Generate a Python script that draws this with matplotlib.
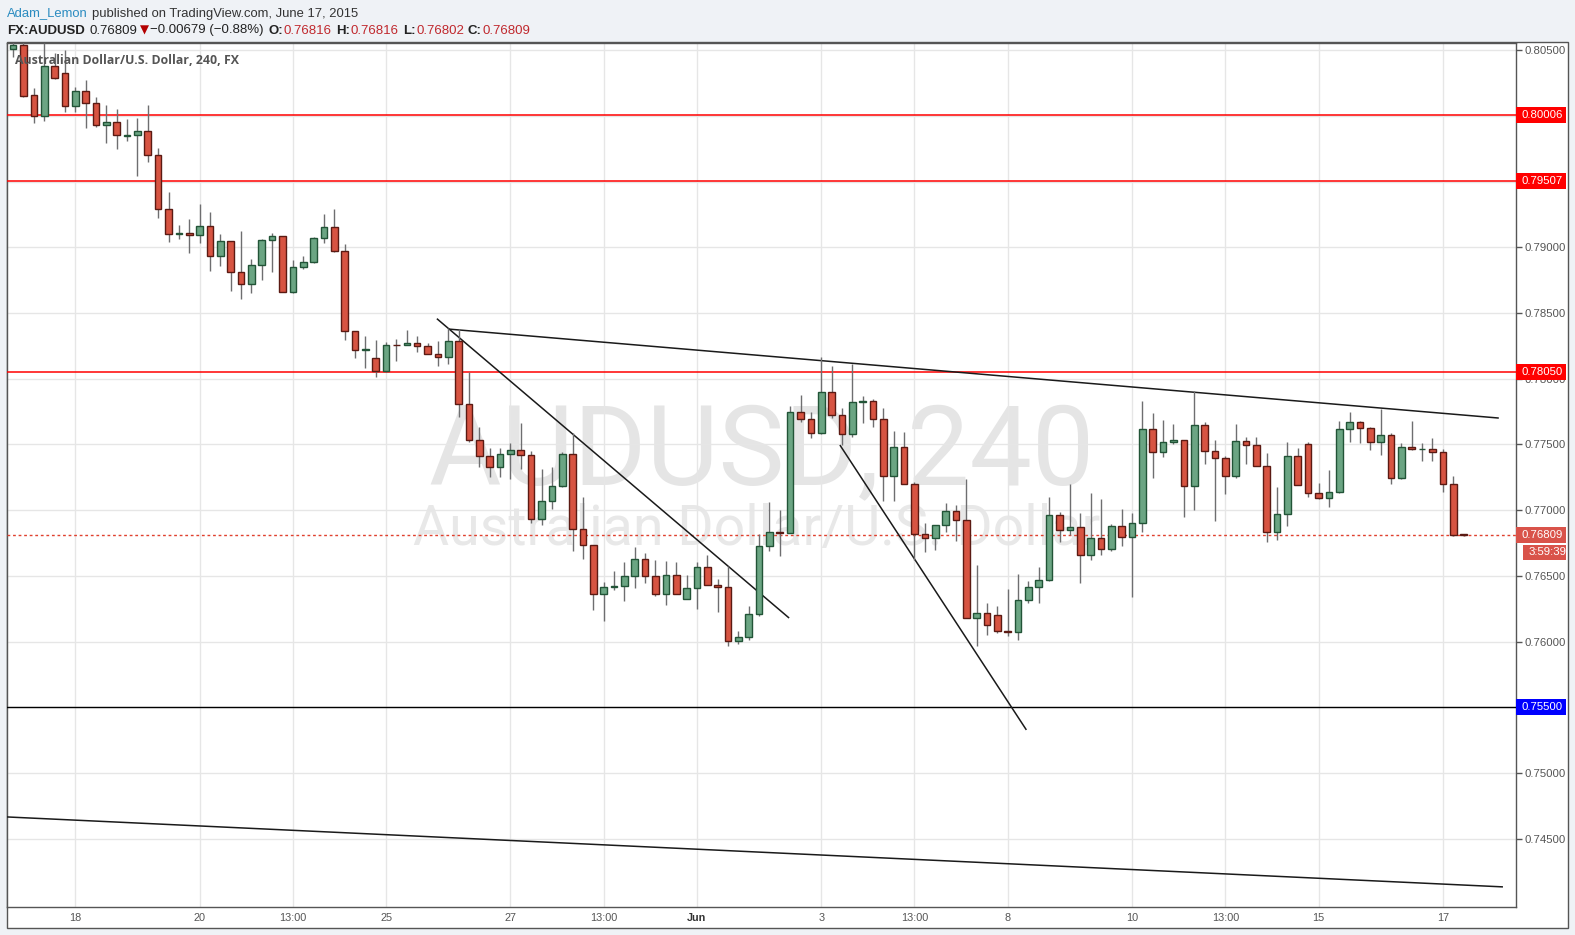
import matplotlib
matplotlib.use("Agg")
import matplotlib.pyplot as plt
import matplotlib.transforms as mtransforms
from matplotlib.patches import Rectangle
from matplotlib.ticker import FormatStrFormatter

# 4h bars, index 0 = May 18 00:00
bars = list(range(-6, 135))
opens = [0.80508, 0.80538, 0.80158, 0.79998, 0.80378, 0.80325, 0.80074, 0.80188, 0.80097, 0.79930,
         0.79952, 0.79850, 0.79854, 0.79884, 0.79702, 0.79291, 0.79101, 0.79108, 0.79093, 0.79162,
         0.78933, 0.79048, 0.78812, 0.78720, 0.78865, 0.79055, 0.79086, 0.78660, 0.78850, 0.78888,
         0.79070, 0.79154, 0.78971, 0.78363, 0.78219, 0.78158, 0.78059, 0.78257, 0.78257, 0.78272,
         0.78249, 0.78188, 0.78165, 0.78287, 0.77808, 0.77534, 0.77412, 0.77329, 0.77428, 0.77458,
         0.77420, 0.76933, 0.77070, 0.77184, 0.77428, 0.76857, 0.76736, 0.76363, 0.76416, 0.76424,
         0.76500, 0.76629, 0.76500, 0.76363, 0.76507, 0.76325, 0.76409, 0.76568, 0.76431, 0.76416,
         0.76005, 0.76036, 0.76211, 0.76728, 0.76834, 0.76827, 0.77747, 0.77694, 0.77587, 0.77899,
         0.77724, 0.77580, 0.77823, 0.77831, 0.77694, 0.77260, 0.77481, 0.77199, 0.76819, 0.76789,
         0.76888, 0.76994, 0.76926, 0.76180, 0.76218, 0.76203, 0.76081, 0.76074, 0.76317, 0.76416,
         0.76469, 0.76964, 0.76850, 0.76872, 0.76659, 0.76789, 0.76705, 0.76880, 0.76796, 0.76903,
         0.77618, 0.77443, 0.77519, 0.77534, 0.77184, 0.77648, 0.77451, 0.77397, 0.77260, 0.77526,
         0.77496, 0.77336, 0.76834, 0.76971, 0.77412, 0.77504, 0.77131, 0.77093, 0.77139, 0.77618,
         0.77671, 0.77625, 0.77519, 0.77572, 0.77245, 0.77481, 0.77462, 0.77466, 0.77443, 0.77199,
         0.76816]
highs = [0.80561, 0.80561, 0.80211, 0.80553, 0.80477, 0.80500, 0.80219, 0.80272, 0.80143, 0.80082,
         0.80051, 0.79975, 0.79983, 0.80082, 0.79755, 0.79420, 0.79169, 0.79215, 0.79329, 0.79268,
         0.79101, 0.79048, 0.79124, 0.78911, 0.79063, 0.79108, 0.79086, 0.78903, 0.78933, 0.79078,
         0.79253, 0.79291, 0.79025, 0.78363, 0.78325, 0.78295, 0.78280, 0.78302, 0.78371, 0.78325,
         0.78272, 0.78287, 0.78386, 0.78378, 0.78051, 0.77633, 0.77473, 0.77473, 0.77511, 0.77664,
         0.77451, 0.77314, 0.77329, 0.77443, 0.77587, 0.77101, 0.76736, 0.76454, 0.76538, 0.76606,
         0.76720, 0.76675, 0.76621, 0.76614, 0.76606, 0.76507, 0.76606, 0.76659, 0.76477, 0.76576,
         0.76081, 0.76272, 0.76819, 0.77063, 0.77002, 0.77793, 0.77876, 0.77747, 0.78165, 0.78097,
         0.77777, 0.78112, 0.77869, 0.77846, 0.77777, 0.77602, 0.77595, 0.77215, 0.76903, 0.76888,
         0.77055, 0.77040, 0.77237, 0.76583, 0.76294, 0.76272, 0.76401, 0.76515, 0.76462, 0.76568,
         0.77101, 0.76986, 0.77199, 0.76979, 0.77131, 0.77085, 0.76895, 0.77009, 0.76979, 0.77831,
         0.77739, 0.77686, 0.77656, 0.77534, 0.77907, 0.77671, 0.77534, 0.77412, 0.77656, 0.77557,
         0.77557, 0.77435, 0.77177, 0.77519, 0.77473, 0.77519, 0.77207, 0.77306, 0.77678, 0.77747,
         0.77679, 0.77633, 0.77770, 0.77587, 0.77511, 0.77679, 0.77511, 0.77549, 0.77466, 0.77260,
         0.76816]
lows = [0.80447, 0.80143, 0.79945, 0.79960, 0.80283, 0.80029, 0.80029, 0.79907, 0.79914, 0.79793,
        0.79747, 0.79808, 0.79542, 0.79648, 0.79222, 0.79040, 0.79063, 0.78956, 0.79032, 0.78819,
        0.78857, 0.78667, 0.78606, 0.78652, 0.78751, 0.78812, 0.78660, 0.78652, 0.78835, 0.78880,
        0.79032, 0.78964, 0.78295, 0.78158, 0.78081, 0.78013, 0.78055, 0.78135, 0.78253, 0.78203,
        0.78188, 0.78097, 0.78112, 0.77709, 0.77519, 0.77329, 0.77253, 0.77253, 0.77238, 0.77314,
        0.76903, 0.76888, 0.77010, 0.77180, 0.76690, 0.76629, 0.76241, 0.76158, 0.76393, 0.76310,
        0.76409, 0.76447, 0.76348, 0.76279, 0.76359, 0.76321, 0.76249, 0.76428, 0.76226, 0.75967,
        0.75983, 0.76013, 0.76196, 0.76690, 0.76652, 0.76823, 0.77671, 0.77549, 0.77583, 0.77701,
        0.77496, 0.77557, 0.77663, 0.77633, 0.77070, 0.77070, 0.77196, 0.76621, 0.76682, 0.76697,
        0.76834, 0.76766, 0.76177, 0.75967, 0.76051, 0.76066, 0.76043, 0.76013, 0.76294, 0.76294,
        0.76462, 0.76758, 0.76812, 0.76447, 0.76621, 0.76659, 0.76690, 0.76728, 0.76340, 0.76834,
        0.77245, 0.77405, 0.77504, 0.76948, 0.77002, 0.77352, 0.76918, 0.77123, 0.77245, 0.77352,
        0.77333, 0.76758, 0.76774, 0.76880, 0.77188, 0.77101, 0.77085, 0.77025, 0.77131, 0.77519,
        0.77511, 0.77458, 0.77420, 0.77199, 0.77238, 0.77458, 0.77374, 0.77374, 0.77139, 0.76804,
        0.76802]
closes = [0.80538, 0.80150, 0.79998, 0.80378, 0.80287, 0.80074, 0.80188, 0.80097, 0.79930, 0.79952,
          0.79854, 0.79854, 0.79884, 0.79702, 0.79291, 0.79101, 0.79108, 0.79093, 0.79162, 0.78933,
          0.79048, 0.78812, 0.78720, 0.78865, 0.79055, 0.79086, 0.78660, 0.78850, 0.78888, 0.79070,
          0.79154, 0.78971, 0.78363, 0.78219, 0.78226, 0.78059, 0.78257, 0.78253, 0.78272, 0.78249,
          0.78188, 0.78165, 0.78287, 0.77808, 0.77534, 0.77412, 0.77329, 0.77428, 0.77458, 0.77420,
          0.76933, 0.77070, 0.77184, 0.77428, 0.76857, 0.76736, 0.76363, 0.76416, 0.76424, 0.76500,
          0.76629, 0.76500, 0.76363, 0.76507, 0.76363, 0.76409, 0.76568, 0.76431, 0.76416, 0.76005,
          0.76036, 0.76211, 0.76728, 0.76834, 0.76827, 0.77747, 0.77694, 0.77587, 0.77899, 0.77724,
          0.77580, 0.77823, 0.77831, 0.77694, 0.77260, 0.77481, 0.77199, 0.76819, 0.76789, 0.76888,
          0.76994, 0.76926, 0.76180, 0.76218, 0.76127, 0.76081, 0.76074, 0.76317, 0.76416, 0.76469,
          0.76964, 0.76850, 0.76872, 0.76659, 0.76789, 0.76705, 0.76880, 0.76796, 0.76903, 0.77618,
          0.77443, 0.77519, 0.77534, 0.77184, 0.77648, 0.77451, 0.77397, 0.77260, 0.77526, 0.77496,
          0.77336, 0.76834, 0.76971, 0.77412, 0.77192, 0.77131, 0.77093, 0.77139, 0.77618, 0.77671,
          0.77625, 0.77519, 0.77572, 0.77245, 0.77481, 0.77466, 0.77466, 0.77443, 0.77199, 0.76812,
          0.76809]

tick_bars = [0, 12, 21, 30, 42, 51, 60, 72, 81, 90, 102, 111, 120, 132]
tick_labels = ["18", "20", "13:00", "25", "27", "13:00", "Jun", "3", "13:00", "8", "10", "13:00", "15", "17"]
price_ticks = [0.745, 0.750, 0.755, 0.760, 0.765, 0.770, 0.775, 0.780, 0.785, 0.790, 0.795, 0.800, 0.805]

red_levels = [0.80006, 0.79507, 0.78050]
support_level = 0.75500
last_price = 0.76809
countdown = "3:59:39"

# drawn trend lines: (bar, price) -> (bar, price)
trend_lines = [
    ((36.0, 0.78378), (137.4, 0.77701)),
    ((34.9, 0.78457), (68.9, 0.76180)),
    ((73.8, 0.77496), (91.8, 0.75329)),
    ((-6.6, 0.74667), (137.8, 0.74135)),
]

W, H = 1575, 935
UP, UP_EDGE = "#6ba583", "#225437"
DN, DN_EDGE = "#d75442", "#5b1a13"
WICK = "#6e6e70"
YMIN, YMAX = 0.73982, 0.80556


def fx(px):
    return px / W


def fy(py):
    return 1 - py / H


fig = plt.figure(figsize=(W / 100, H / 100), dpi=100, facecolor="#eff2f6")
fig.patches.append(Rectangle((fx(6.5), fy(928)), fx(1568) - fx(6.5), fy(42.5) - fy(928),
                             transform=fig.transFigure, facecolor="white",
                             edgecolor="#555555", lw=1, zorder=-5))

ax = fig.add_axes([fx(6.7), fy(907), fx(1516) - fx(6.7), fy(42.7) - fy(907)])
ax.set_zorder(2)
ax.set_xlim(-6.62, 139.06)
ax.set_ylim(YMIN, YMAX)
ax.set_facecolor("white")
for sp in ax.spines.values():
    sp.set_color("#555555")
    sp.set_linewidth(1)

# watermark
ax.text(0.5, 0.488, "AUDUSD, 240", transform=ax.transAxes, ha="center", va="baseline",
        fontsize=80, color="#e5e5e5", family="Roboto", zorder=0.5)
ax.text(0.497, 0.419, "Australian Dollar/U.S. Dollar", transform=ax.transAxes, ha="center",
        va="baseline", fontsize=40, color="#e8e8e8", family="Roboto", zorder=0.5)

ax.set_axisbelow(True)
ax.grid(True, color="#e6e6e6", lw=1)

# horizontal levels
for lv in red_levels:
    ax.axhline(lv, color="#ff0000", lw=1.1, zorder=3)
ax.axhline(support_level, color="#000000", lw=1, zorder=3)
ax.axhline(last_price, color="#e0412f", lw=1, ls=(0, (2, 2)), zorder=3)

# trend lines
for (x0, y0), (x1, y1) in trend_lines:
    ax.plot([x0, x1], [y0, y1], color="#1a1a1a", lw=1.1, zorder=4, solid_capstyle="butt")

# candles
for i, o, h, l, c in zip(bars, opens, highs, lows, closes):
    up = c >= o
    ax.vlines(i, l, h, color=WICK, lw=1, zorder=5)
    ax.bar(i, abs(c - o), bottom=min(o, c), width=0.64,
           color=UP if up else DN, edgecolor=UP_EDGE if up else DN_EDGE,
           linewidth=1, zorder=6)

# axes ticks
ax.set_xticks(tick_bars)
ax.set_xticklabels(tick_labels)
ax.tick_params(axis="x", length=0, pad=4, labelsize=7.8, labelcolor="#555555")
for lab in ax.get_xticklabels():
    lab.set_family("Liberation Sans")
ax.get_xticklabels()[6].set_fontweight("bold")
ax.get_xticklabels()[6].set_color("#333333")

ax.yaxis.tick_right()
ax.set_yticks(price_ticks)
ax.yaxis.set_major_formatter(FormatStrFormatter("%.5f"))
ax.tick_params(axis="y", direction="out", length=4, width=1, color="#555555", pad=2,
               labelsize=8.2, labelcolor="#555555")
for lab in ax.get_yticklabels():
    lab.set_family("Liberation Sans")

# price labels on the right scale
trans = mtransforms.blended_transform_factory(ax.transAxes, ax.transData)
axw = fx(1516) - fx(6.7)
pxw = 1 / (axw * W)           # one pixel in axes-x units
pxp = (YMAX - YMIN) / (907 - 42.7)   # one pixel in price units


def price_box(y, text, color, x0=0, x1=50, hgt=16):
    ax.add_patch(Rectangle((1 + x0 * pxw, y - hgt / 2 * pxp), (x1 - x0) * pxw, hgt * pxp,
                           transform=trans, clip_on=False, facecolor=color,
                           edgecolor="none", zorder=10))
    ax.text(1 + (x0 + 6) * pxw, y, text, transform=trans, ha="left", va="center",
            color="white", fontsize=8.2, family="Liberation Sans", clip_on=False, zorder=11)


for lv in red_levels:
    price_box(lv, f"{lv:.5f}", "#ff0000")
price_box(support_level, f"{support_level:.5f}", "#0000ff")
price_box(last_price, f"{last_price:.5f}", "#d9534a")
price_box(last_price - 17 * pxp, countdown, "#d9534a", x0=7, hgt=15)

# header
renderer = fig.canvas.get_renderer()


def run_text(parts, x, y, size):
    for s, color, weight, gap in parts:
        fam = ["DejaVu Sans"] if s == "▼" else ["Liberation Sans", "DejaVu Sans"]
        t = fig.text(fx(x), fy(y), s, color=color, fontweight=weight, family=fam,
                     fontsize=size if s != "▼" else size - 1, ha="left", va="center")
        x += t.get_window_extent(renderer=renderer).width + gap


run_text([("Adam_Lemon", "#2a8bc0", "normal", 4),
          ("published on TradingView.com, June 17, 2015", "#333333", "normal", 0)], 7, 13.5, 9.4)
red = "#c0282d"
run_text([("FX:AUDUSD", "#222222", "bold", 5), ("0.76809", "#222222", "normal", 2),
          ("▼", "#b30000", "normal", 1), ("\u22120.00679 (\u22120.88%)", "#222222", "normal", 5),
          ("O:", "#222222", "bold", 1), ("0.76816", red, "normal", 4),
          ("H:", "#222222", "bold", 1), ("0.76816", red, "normal", 4),
          ("L:", "#222222", "bold", 1), ("0.76802", red, "normal", 4),
          ("C:", "#222222", "bold", 1), ("0.76809", red, "normal", 0)], 7, 30.5, 9.5)

fig.text(fx(15), fy(60.5), "Australian Dollar/U.S. Dollar, 240, FX", color="#555555",
         fontsize=8.9, fontweight="bold", family="Open Sans", ha="left", va="center")

fig.savefig("out.png", dpi=100, facecolor=fig.get_facecolor())
